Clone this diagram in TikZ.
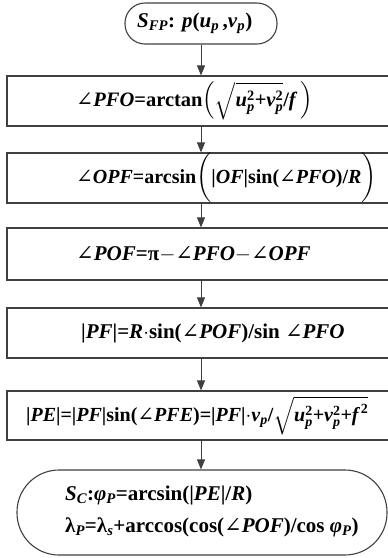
\documentclass[tikz,border=0pt]{standalone}
\usepackage{amsmath}
\usepackage{fontspec}
\setmainfont{Liberation Serif}
\newfontfamily\angfont{DejaVu Serif}
\usetikzlibrary{arrows.meta}
\newcommand\mi[1]{\textit{#1}}
\newcommand\ang{{\angfont\mdseries\upshape ∠}}
\begin{document}
\begin{tikzpicture}[x=1pt,y=-1pt,
  frame/.style={draw=black!75,line width=1.1pt,inner sep=0pt},
  txt/.style={inner sep=0pt,anchor=west,font=\fontsize{21}{32}\selectfont\bfseries},
  conn/.style={draw=black!75,line width=1pt,-{Triangle[length=10pt,width=8pt]}}]
\useasboundingbox (0,0) rectangle (388,558);
\clip (0,0) rectangle (388,558);
% terminal start
\node[frame,rounded corners=20pt,minimum width=152pt,minimum height=41pt] (s) at (201,23.5) {};
\node[txt] (st) at (137,23) {\mi{S}$_{\mi{FP}}$: \mi{p}(\mi{u}$_{\mi{p}}$\,,\mi{v}$_{\mi{p}}$)};
% boxes
\node[frame,minimum width=386pt,minimum height=50pt] (b1) at (200,101) {};
\node[txt,font=\fontsize{20.5}{24}\selectfont\bfseries] (t1) at (76,101) {\ang\mi{PFO}=arctan$\left(\sqrt{\mi{u}^{\text{2}}_{\mi{p}}\text{+}\mi{v}^{\text{2}}_{\mi{p}}}\text{/}\mi{f}\ \right)$};
\node[frame,minimum width=386pt,minimum height=50pt] (b2) at (200,178) {};
\node[txt,font=\fontsize{20}{24}\selectfont\bfseries] (t2) at (76,178) {\ang\mi{OPF}=arcsin$\biggl($|\mi{OF}|sin(\ang\mi{PFO})/\mi{R}$\biggr)$};
\node[frame,minimum width=386pt,minimum height=52pt] (b3) at (200,254) {};
\node[txt] (t3) at (76,254) {\ang\mi{POF}=π$-$\ang\mi{PFO}$-$\ang\mi{OPF}};
\node[frame,minimum width=386pt,minimum height=50pt] (b4) at (200,333) {};
\node[txt] (t4) at (81,333) {|\mi{PF}|=\mi{R}$\cdot$sin(\ang\mi{POF})/sin \ang\mi{PFO}};
\node[frame,minimum width=386pt,minimum height=49pt] (b5) at (200,415.5) {};
\node[txt,font=\fontsize{20}{24}\selectfont\bfseries] (t5) at (26,415.5) {|\mi{PE}|=|\mi{PF}|sin(\ang\mi{PFE})=|\mi{PF}|$\cdot$\mi{v}$_{\mi{p}}$/$\sqrt{\mi{u}^{\text{2}}_{\mi{p}}\text{+}\mi{v}^{\text{2}}_{\mi{p}}\text{+}\mi{f}^{\,\text{2}}}$};
% terminal end
\node[frame,rounded corners=42pt,minimum width=370pt,minimum height=85pt] (e) at (202,512.5) {};
\node[txt,align=left] (et) at (65,511) {\mi{S}$_{\mi{C}}$:\mi{φ}$_{\mi{P}}$=arcsin(|\mi{PE}|/\mi{R})\\
λ$_{\mi{P}}$=λ$_{\mi{s}}$+arccos(cos(\ang\mi{POF})/cos \mi{φ}$_{\mi{P}}$)};
% connectors
\draw[conn] (s.south -| 201,0) -- (b1.north -| 201,0);
\draw[conn] (b1.south -| 201,0) -- (b2.north -| 201,0);
\draw[conn] (b2.south -| 201,0) -- (b3.north -| 201,0);
\draw[conn] (b3.south -| 201,0) -- (b4.north -| 201,0);
\draw[conn] (b4.south -| 201,0) -- (b5.north -| 201,0);
\draw[conn] (b5.south -| 201,0) -- (e.north -| 201,0);
\end{tikzpicture}
\end{document}
